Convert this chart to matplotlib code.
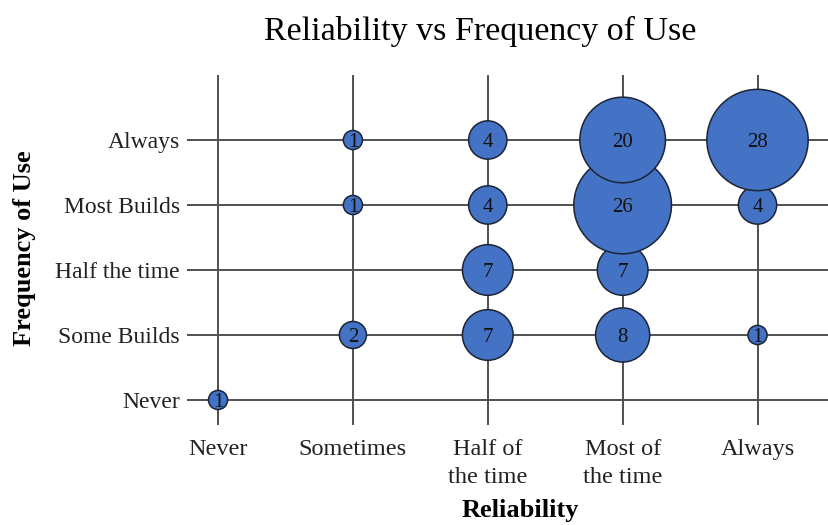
import matplotlib
matplotlib.use("Agg")
import matplotlib.pyplot as plt

reliability_labels = ["Never", "Sometimes", "Half of\nthe time", "Most of\nthe time", "Always"]
frequency_labels = ["Never", "Some Builds", "Half the time", "Most Builds", "Always"]

# points: (reliability index, frequency index, count), drawn bottom row first
rel_idx = [0, 1, 2, 3, 4, 2, 3, 1, 2, 3, 4, 1, 2, 3, 4]
freq_idx = [0, 1, 1, 1, 1, 2, 2, 3, 3, 3, 3, 4, 4, 4, 4]
counts = [1, 2, 7, 8, 1, 7, 7, 1, 4, 26, 4, 1, 4, 20, 28]

plt.rcParams['font.family'] = ['Liberation Serif', 'DejaVu Serif']

fig = plt.figure(figsize=(8.29, 5.25), dpi=100)
ax = fig.add_axes([187/829, 1 - 425/525, 1 - 187/829, (425 - 75)/525])

ax.set_xlim(-0.23, 4.53)
ax.set_ylim(-0.385, 5.0)

ax.set_xticks(range(len(reliability_labels)))
ax.set_xticklabels(reliability_labels, fontsize=17.5, color='#222222',
                   linespacing=1.45)
ax.set_yticks(range(len(frequency_labels)))
ax.set_yticklabels(frequency_labels, fontsize=17, color='#222222')
ax.tick_params(axis='x', length=0, pad=10)
ax.tick_params(axis='y', length=0, pad=5)
for s in ax.spines.values():
    s.set_visible(False)
ax.grid(True, color='#505050', linewidth=1.4)
ax.set_axisbelow(True)

sizes = [190 * c for c in counts]
ax.scatter(rel_idx, freq_idx, s=sizes, c='#4472C4', edgecolors='#1c2535',
           linewidths=1.1, zorder=3)
for x, y, c in zip(rel_idx, freq_idx, counts):
    ax.text(x, y, str(c), ha='center', va='center_baseline', fontsize=15,
            color='#111111', zorder=4)

fig.text(480/829, 1 - 31/525, "Reliability vs Frequency of Use", ha='center',
         va='center', fontsize=24.5)
fig.text(520/829, 1 - 511/525, "Reliability", ha='center', va='center',
         fontsize=19, fontweight='bold')
fig.text(25/829, 1 - 248/525, "Frequency of Use", ha='center', va='center',
         fontsize=19, fontweight='bold', rotation=90)

fig.savefig("out.png", dpi=100)
